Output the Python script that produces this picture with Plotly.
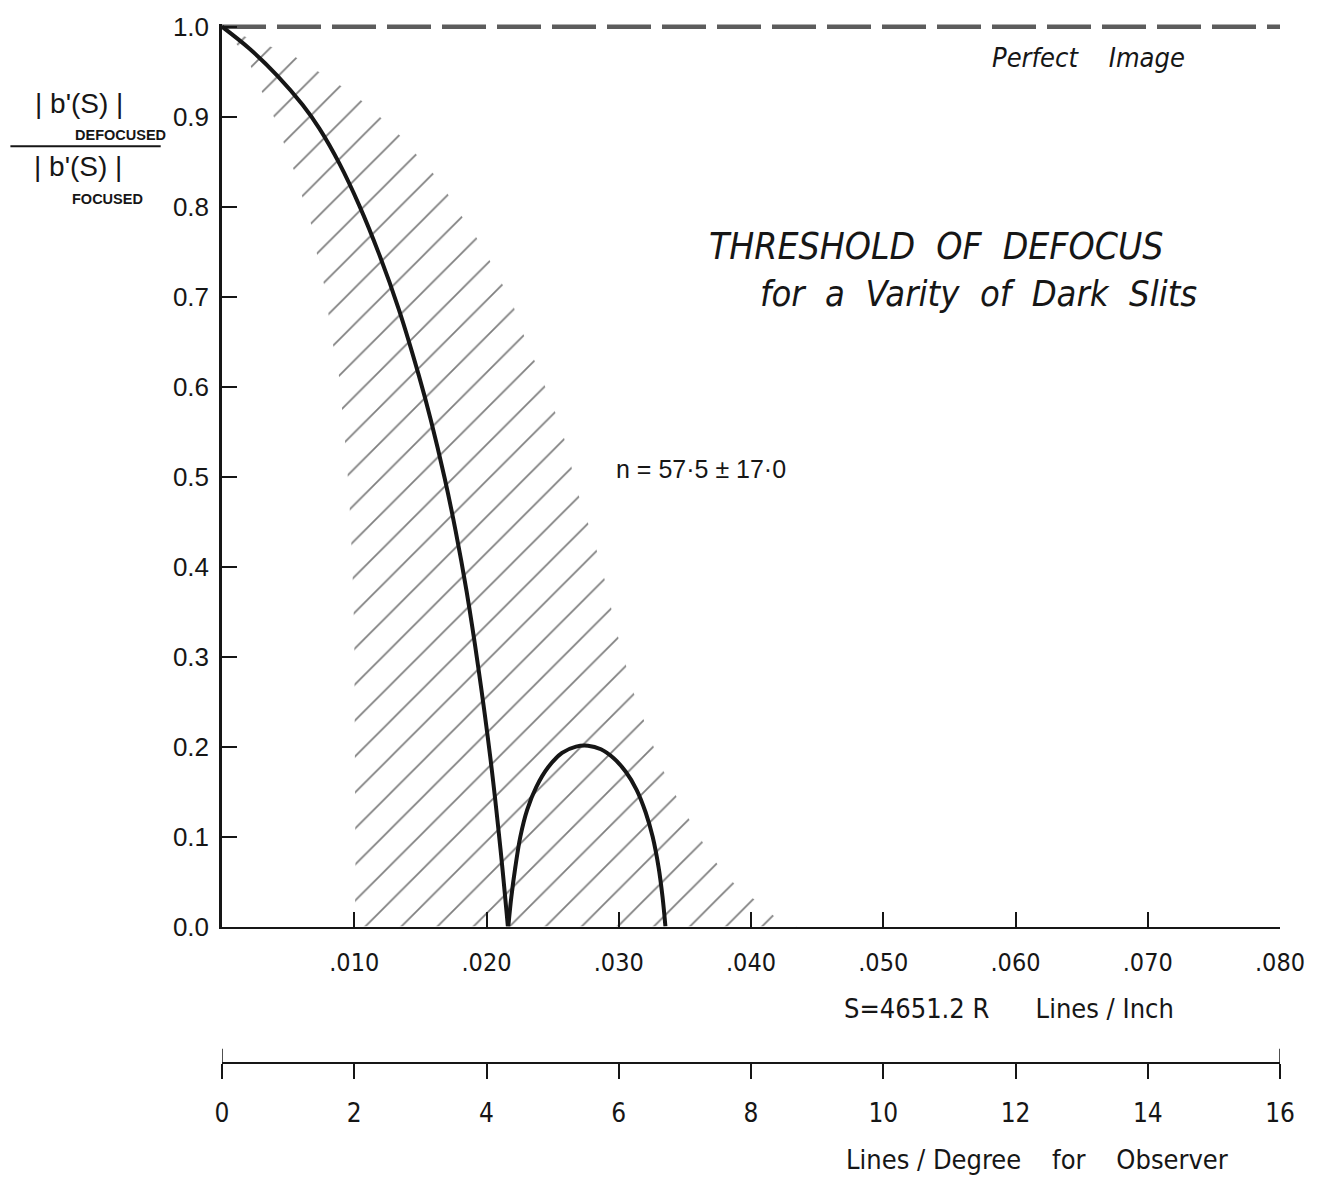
import plotly.graph_objects as go

# ---------------- data ----------------
# main curve (falling branch)
main_x = [0.0, 0.002105, 0.004211, 0.006090, 0.007368, 0.008872, 0.010376, 0.011880,
          0.013383, 0.014887, 0.015789, 0.016842, 0.017669, 0.018496, 0.019398,
          0.020301, 0.021053, 0.021617]
main_y = [1.0, 0.9752, 0.9451, 0.9132, 0.8868, 0.8481, 0.8015, 0.7473,
          0.6853, 0.6122, 0.5630, 0.4979, 0.4394, 0.3724, 0.2860,
          0.1864, 0.0867, 0.0]

# secondary lobe
lobe_x = [0.02165, 0.02188, 0.02218, 0.02256, 0.02308, 0.02376, 0.02466, 0.02571, 0.02677,
          0.02767, 0.02865, 0.02962, 0.03053, 0.03135, 0.03203, 0.03256, 0.03301,
          0.03331, 0.03353]
lobe_y = [0.0, 0.033, 0.066, 0.100, 0.130, 0.155, 0.177, 0.193, 0.200,
          0.201, 0.197, 0.187, 0.172, 0.152, 0.127, 0.100, 0.066,
          0.033, 0.0]

# hatched threshold band: left boundary (top -> bottom)
band_left_x = [0.0, 0.00188, 0.0027, 0.0036, 0.00436, 0.0050, 0.00564, 0.00617, 0.00684,
               0.00722, 0.00774, 0.00805, 0.00835, 0.0088, 0.00925, 0.0096, 0.00985,
               0.0100, 0.0101, 0.0100]
band_left_y = [1.0, 0.967, 0.937, 0.911, 0.884, 0.857, 0.833, 0.806, 0.776,
               0.744, 0.712, 0.681, 0.650, 0.618, 0.550, 0.483, 0.403,
               0.326, 0.044, 0.0]
# right boundary (top -> bottom)
band_right_x = [0.0, 0.00286, 0.00504, 0.00669, 0.00827, 0.00977, 0.01105, 0.01226,
                0.01361, 0.01481, 0.01609, 0.01707, 0.01805, 0.0191, 0.02008, 0.0209,
                0.02188, 0.02248, 0.02331, 0.02414, 0.02564, 0.02624, 0.02677, 0.02744,
                0.02812, 0.02872, 0.02925, 0.0297, 0.0303, 0.0309, 0.03165, 0.03233,
                0.03308, 0.03391, 0.03481, 0.03571, 0.03669, 0.03782, 0.0391, 0.04045,
                0.0418, 0.0435]
band_right_y = [1.0, 0.982, 0.971, 0.956, 0.941, 0.927, 0.912, 0.895,
                0.877, 0.856, 0.835, 0.814, 0.791, 0.769, 0.745, 0.721,
                0.697, 0.669, 0.639, 0.611, 0.555, 0.523, 0.488, 0.458,
                0.429, 0.398, 0.367, 0.334, 0.305, 0.269, 0.240, 0.212,
                0.182, 0.157, 0.132, 0.109, 0.085, 0.062, 0.042, 0.028,
                0.011, 0.0]

# perfect image reference
perfect_x = [0.0, 0.080]
perfect_y = [1.0, 1.0]

# axes ticks
x_ticks = [0.010, 0.020, 0.030, 0.040, 0.050, 0.060, 0.070, 0.080]
x_tick_text = [".010", ".020", ".030", ".040", ".050", ".060", ".070", ".080"]
y_ticks = [0.0, 0.1, 0.2, 0.3, 0.4, 0.5, 0.6, 0.7, 0.8, 0.9, 1.0]
y_tick_text = ["0.0", "0.1", "0.2", "0.3", "0.4", "0.5", "0.6", "0.7", "0.8", "0.9", "1.0"]
obs_ticks = [0, 2, 4, 6, 8, 10, 12, 14, 16]
obs_tick_text = ["0", "2", "4", "6", "8", "10", "12", "14", "16"]

# ---------------- figure ----------------
INK = "#161616"
FONT = "Liberation Sans, Arial, sans-serif"
NARROW = "Liberation Sans Narrow, DejaVu Sans Condensed, Arial Narrow, sans-serif"

fig = go.Figure()

poly_x = band_left_x + band_right_x[::-1]
poly_y = band_left_y + band_right_y[::-1]
fig.add_trace(go.Scatter(
    x=poly_x, y=poly_y, mode="lines", fill="toself",
    line=dict(width=0, color="rgba(0,0,0,0)"),
    fillcolor="rgba(0,0,0,0)",
    fillpattern=dict(shape="/", size=25.5, solidity=0.07, fgcolor="#000000",
                     bgcolor="rgba(0,0,0,0)", fillmode="overlay"),
    hoverinfo="skip", showlegend=False))

fig.add_trace(go.Scatter(
    x=perfect_x, y=perfect_y, mode="lines",
    line=dict(color="#5c5c5c", width=4.5, dash="44px,11px"),
    showlegend=False))

fig.add_trace(go.Scatter(
    x=main_x, y=main_y, mode="lines",
    line=dict(color=INK, width=4, shape="spline", smoothing=1.0),
    showlegend=False))
fig.add_trace(go.Scatter(
    x=lobe_x, y=lobe_y, mode="lines",
    line=dict(color=INK, width=4, shape="spline", smoothing=1.0),
    showlegend=False))

# invisible trace to carry the observer axis
fig.add_trace(go.Scatter(
    x=obs_ticks, y=[None] * len(obs_ticks), xaxis="x2", yaxis="y",
    mode="markers", showlegend=False, hoverinfo="skip"))

PLOT_H = 1202 - 16 - 60
Y_DOM0 = (1142 - 925) / PLOT_H
X2_POS = (1142 - 1062) / PLOT_H

fig.update_layout(
    width=1317, height=1202,
    margin=dict(l=222, r=25, t=16, b=60),
    paper_bgcolor="white", plot_bgcolor="white",
    font=dict(family=FONT, color=INK),
    xaxis=dict(range=[0, 0.080], domain=[0, 1], anchor="y",
               tickvals=x_ticks, ticktext=x_tick_text,
               ticks="inside", ticklen=15, tickwidth=1.5, tickcolor=INK,
               showline=True, linecolor=INK, linewidth=2,
               showgrid=False, zeroline=False,
               tickfont=dict(family=NARROW, size=25, color=INK),
               ticklabelstandoff=12),
    yaxis=dict(range=[0, 1.003], domain=[Y_DOM0, 1], anchor="x",
               tickvals=y_ticks, ticktext=y_tick_text,
               ticks="inside", ticklen=15, tickwidth=1.5, tickcolor=INK,
               showline=True, linecolor=INK, linewidth=2.5,
               showgrid=False, zeroline=False,
               tickfont=dict(family=FONT, size=26, color=INK),
               ticklabelstandoff=5),
    xaxis2=dict(range=[0, 16], domain=[0, 1], overlaying="x", anchor="free",
                position=X2_POS, side="bottom",
                tickvals=obs_ticks, ticktext=obs_tick_text,
                ticks="outside", ticklen=15, tickwidth=1.5, tickcolor=INK,
                showline=True, linecolor=INK, linewidth=2,
                showgrid=False, zeroline=False,
                tickfont=dict(family=NARROW, size=26, color=INK),
                ticklabelstandoff=12),
)

# end ticks of observer scale extend above the line as well
for v in (obs_ticks[0], obs_ticks[-1]):
    fig.add_shape(type="line", xref="x2", yref="paper",
                  x0=v, x1=v, y0=X2_POS, y1=X2_POS + 14 / PLOT_H,
                  line=dict(color=INK, width=1.5))

def px_x(p):
    return (p - 222) / (1317 - 222 - 25)

def px_y(p):
    return (1142 - p) / PLOT_H

# y label as a stacked fraction
fig.add_shape(type="line", xref="paper", yref="paper",
              x0=px_x(8), x1=px_x(160), y0=px_y(139), y1=px_y(139),
              line=dict(color=INK, width=2))

def ann(text, x, y, size, family=FONT, xref="paper", yref="paper"):
    fig.add_annotation(text=text, x=x, y=y, xref=xref, yref=yref,
                       showarrow=False, xanchor="center", yanchor="middle",
                       font=dict(family=family, size=size, color=INK))

ann("| b'(S) |", px_x(77), px_y(96), 28)
ann("<b>DEFOCUSED</b>", px_x(119), px_y(128), 14.5)
ann("| b'(S) |", px_x(76), px_y(160), 28)
ann("<b>FOCUSED</b>", px_x(106), px_y(192), 14.5)

ann("<i>Perfect    Image</i>", 0.0655, 0.9657, 27, family=NARROW, xref="x", yref="y")
ann("<i>THRESHOLD  OF  DEFOCUS</i>", 0.0540, 0.756, 37, family=NARROW, xref="x", yref="y")
ann("<i>for  a  Varity  of  Dark  Slits</i>", 0.0572, 0.703, 36, family=NARROW, xref="x", yref="y")
ann("n = 57·5 ± 17·0", 0.0362, 0.509, 25, xref="x", yref="y")

ann("S=4651.2 R      Lines / Inch", px_x(1018), px_y(1008), 27, family=NARROW)
ann("Lines / Degree    for    Observer", px_x(1046), px_y(1160), 27, family=NARROW)

fig.write_html("out.html")
